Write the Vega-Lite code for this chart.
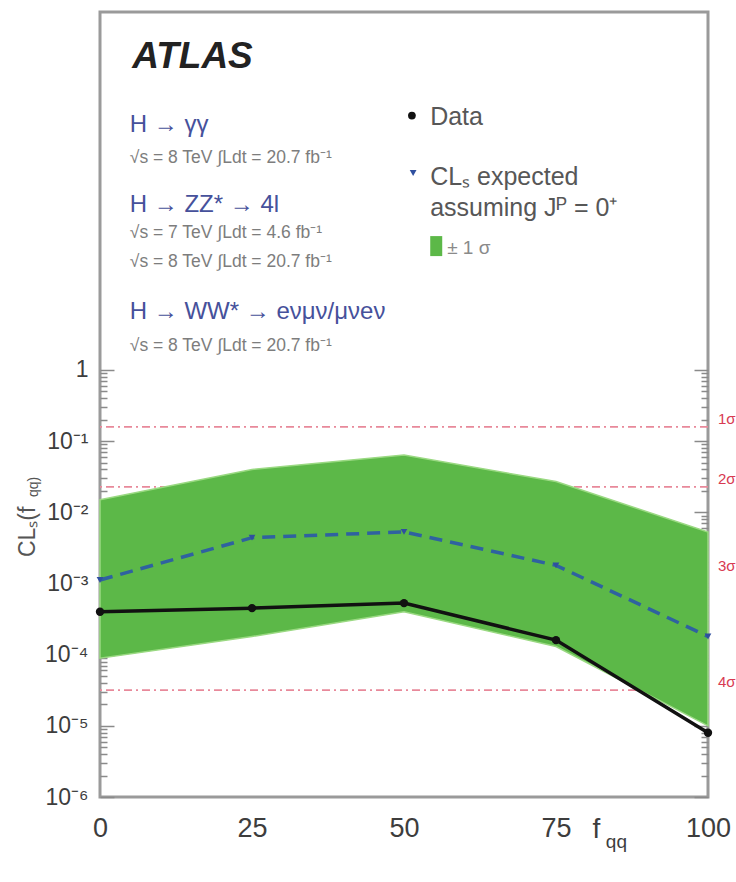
{
  "$schema": "https://vega.github.io/schema/vega-lite/v6.json",
  "width": 608,
  "height": 785,
  "autosize": {"type": "none"},
  "padding": {"left": 100, "top": 12, "right": 28, "bottom": 85},
  "background": "#ffffff",
  "config": {
    "view": {"stroke": "#9a9a9a", "strokeWidth": 3},
    "font": "Liberation Sans",
    "axis": {"grid": false, "domain": false}
  },
  "datasets": {
    "cls": [
      {"fqq": 0, "observed": 0.00040, "expected": 0.00112, "band_lo": 0.000089, "band_hi": 0.015},
      {"fqq": 25, "observed": 0.00045, "expected": 0.0044, "band_lo": 0.00018, "band_hi": 0.040},
      {"fqq": 50, "observed": 0.00053, "expected": 0.0053, "band_lo": 0.00040, "band_hi": 0.064},
      {"fqq": 75, "observed": 0.00016, "expected": 0.0018, "band_lo": 0.00013, "band_hi": 0.027},
      {"fqq": 100, "observed": 0.000008, "expected": 0.00018, "band_lo": 0.00001, "band_hi": 0.0053}
    ],
    "sigma": [
      {"p": 0.1587, "level": "1σ"},
      {"p": 0.02275, "level": "2σ"},
      {"p": 0.00135, "level": "3σ"},
      {"p": 0.0000317, "level": "4σ"}
    ],
    "atlas": [{"x": 5.3, "y": 25000, "label": "ATLAS"}],
    "channels": [
      {"x": 4.9, "y": 2760, "label": "H → γγ"},
      {"x": 4.9, "y": 208, "label": "H → ZZ* → 4l"},
      {"x": 4.9, "y": 6.5, "label": "H → WW* → eνμν/μνeν"}
    ],
    "lumi": [
      {"x": 4.9, "y": 950, "label": "√s = 8 TeV ∫Ldt = 20.7 fb⁻¹"},
      {"x": 4.9, "y": 84, "label": "√s = 7 TeV ∫Ldt = 4.6 fb⁻¹"},
      {"x": 4.9, "y": 33, "label": "√s = 8 TeV ∫Ldt = 20.7 fb⁻¹"},
      {"x": 4.9, "y": 2.2, "label": "√s = 8 TeV ∫Ldt = 20.7 fb⁻¹"}
    ],
    "legend_text": [
      {"x": 54.3, "y": 3560, "label": "Data"},
      {"x": 54.3, "y": 513, "label": "CLₛ expected"},
      {"x": 54.3, "y": 188, "label": "assuming Jᴾ = 0⁺"}
    ],
    "legend_band": [{"x": 57.1, "y": 52, "label": "± 1 σ"}],
    "legend_dot": [{"x": 51.3, "y": 3750}],
    "legend_tri": [{"x": 51.5, "y": 585}],
    "legend_box": [{"x": 55.3, "y": 55}],
    "ytitle_main": [{"x": -11.8, "y": 0.00235, "label": "CLₛ(f"}],
    "ytitle_sub": [{"x": -10.9, "y": 0.0164, "label": "qq)"}],
    "xtitle_main": [{"x": 81.0, "y": 0.000000347, "label": "f"}],
    "xtitle_sub": [{"x": 83.2, "y": 0.000000235, "label": "qq"}]
  },
  "resolve": {"axis": {"y": "independent", "x": "independent"}},
  "layer": [
    {
      "data": {"name": "sigma"},
      "mark": {"type": "rule", "color": "#e8899a", "strokeWidth": 1.6, "strokeDash": [8, 4, 2, 4]},
      "encoding": {
        "y": {
          "field": "p", "type": "quantitative",
          "scale": {"type": "log", "domain": [0.000001, 107000]},
          "axis": {
            "orient": "right", "title": null, "labels": false, "domain": false,
            "values": [1e-6, 2e-6, 3e-6, 4e-6, 5e-6, 6e-6, 7e-6, 8e-6, 9e-6, 1e-5, 2e-5, 3e-5, 4e-5, 5e-5, 6e-5, 7e-5, 8e-5, 9e-5, 1e-4, 2e-4, 3e-4, 4e-4, 5e-4, 6e-4, 7e-4, 8e-4, 9e-4, 1e-3, 2e-3, 3e-3, 4e-3, 5e-3, 6e-3, 7e-3, 8e-3, 9e-3, 1e-2, 2e-2, 3e-2, 4e-2, 5e-2, 6e-2, 7e-2, 8e-2, 9e-2, 0.1, 0.2, 0.3, 0.4, 0.5, 0.6, 0.7, 0.8, 0.9, 1],
            "tickColor": "#8a8a8a", "tickWidth": 1.5,
            "tickSize": {"condition": {"test": "abs(log(datum.value)/LN10 - round(log(datum.value)/LN10)) < 0.001", "value": -14}, "value": -7}
          }
        }
      }
    },
    {
      "data": {"name": "sigma"},
      "mark": {"type": "text", "align": "left", "baseline": "bottom", "dx": 10, "fontSize": 15, "color": "#d83a52"},
      "encoding": {
        "x": {"datum": 100, "type": "quantitative", "scale": {"domain": [0, 100]}, "axis": null},
        "y": {"field": "p", "type": "quantitative", "scale": {"type": "log", "domain": [0.000001, 107000]}, "axis": null},
        "text": {"field": "level"}
      }
    },
    {
      "data": {"name": "cls"},
      "mark": {"type": "area", "color": "#5cb848", "opacity": 1, "stroke": "#9ad982", "strokeWidth": 1.5},
      "encoding": {
        "x": {
          "field": "fqq", "type": "quantitative", "scale": {"domain": [0, 100]},
          "axis": {"orient": "bottom", "title": null, "values": [0, 25, 50, 75, 100], "ticks": false, "domain": false,
                   "labelFontSize": 27, "labelColor": "#3d3d3d", "labelPadding": 18, "labelFlush": false, "labelOverlap": false}
        },
        "y": {
          "field": "band_hi", "type": "quantitative",
          "scale": {"type": "log", "domain": [0.000001, 107000]},
          "axis": {
            "orient": "left", "title": null, "domain": false,
            "values": [1e-6, 2e-6, 3e-6, 4e-6, 5e-6, 6e-6, 7e-6, 8e-6, 9e-6, 1e-5, 2e-5, 3e-5, 4e-5, 5e-5, 6e-5, 7e-5, 8e-5, 9e-5, 1e-4, 2e-4, 3e-4, 4e-4, 5e-4, 6e-4, 7e-4, 8e-4, 9e-4, 1e-3, 2e-3, 3e-3, 4e-3, 5e-3, 6e-3, 7e-3, 8e-3, 9e-3, 1e-2, 2e-2, 3e-2, 4e-2, 5e-2, 6e-2, 7e-2, 8e-2, 9e-2, 0.1, 0.2, 0.3, 0.4, 0.5, 0.6, 0.7, 0.8, 0.9, 1],
            "labelExpr": "abs(log(datum.value)/LN10 - round(log(datum.value)/LN10)) > 0.001 ? '' : (round(log(datum.value)/LN10) == 0 ? '1' : '10' + ['⁰','⁻¹','⁻²','⁻³','⁻⁴','⁻⁵','⁻⁶'][-round(log(datum.value)/LN10)])",
            "labelFontSize": 23, "labelColor": "#3d3d3d", "labelPadding": 26, "labelOverlap": false, "labelFlush": false,
            "tickColor": "#8a8a8a", "tickWidth": 1.5,
            "tickSize": {"condition": {"test": "abs(log(datum.value)/LN10 - round(log(datum.value)/LN10)) < 0.001", "value": -14}, "value": -7}
          }
        },
        "y2": {"field": "band_lo"}
      }
    },
    {
      "data": {"name": "cls"},
      "mark": {"type": "line", "color": "#2f62a0", "strokeWidth": 3.5, "strokeDash": [13, 8]},
      "encoding": {
        "x": {"field": "fqq", "type": "quantitative", "scale": {"domain": [0, 100]}, "axis": null},
        "y": {"field": "expected", "type": "quantitative", "scale": {"type": "log", "domain": [0.000001, 107000]}, "axis": null}
      }
    },
    {
      "data": {"name": "cls"},
      "mark": {"type": "point", "shape": "triangle-down", "filled": true, "color": "#2f4f9f", "size": 45, "opacity": 1},
      "encoding": {
        "x": {"field": "fqq", "type": "quantitative", "scale": {"domain": [0, 100]}, "axis": null},
        "y": {"field": "expected", "type": "quantitative", "scale": {"type": "log", "domain": [0.000001, 107000]}, "axis": null}
      }
    },
    {
      "data": {"name": "cls"},
      "mark": {"type": "line", "color": "#111111", "strokeWidth": 3.5},
      "encoding": {
        "x": {"field": "fqq", "type": "quantitative", "scale": {"domain": [0, 100]}, "axis": null},
        "y": {"field": "observed", "type": "quantitative", "scale": {"type": "log", "domain": [0.000001, 107000]}, "axis": null}
      }
    },
    {
      "data": {"name": "cls"},
      "mark": {"type": "point", "shape": "circle", "filled": true, "color": "#111111", "size": 70, "opacity": 1},
      "encoding": {
        "x": {"field": "fqq", "type": "quantitative", "scale": {"domain": [0, 100]}, "axis": null},
        "y": {"field": "observed", "type": "quantitative", "scale": {"type": "log", "domain": [0.000001, 107000]}, "axis": null}
      }
    },
    {
      "data": {"name": "atlas"},
      "mark": {"type": "text", "align": "left", "baseline": "middle", "fontSize": 37, "fontWeight": "bold", "fontStyle": "italic", "color": "#222222"},
      "encoding": {
        "x": {"field": "x", "type": "quantitative", "scale": {"domain": [0, 100]}, "axis": null},
        "y": {"field": "y", "type": "quantitative", "scale": {"type": "log", "domain": [0.000001, 107000]}, "axis": null},
        "text": {"field": "label"}
      }
    },
    {
      "data": {"name": "channels"},
      "mark": {"type": "text", "align": "left", "baseline": "middle", "fontSize": 24, "color": "#46519b"},
      "encoding": {
        "x": {"field": "x", "type": "quantitative", "scale": {"domain": [0, 100]}, "axis": null},
        "y": {"field": "y", "type": "quantitative", "scale": {"type": "log", "domain": [0.000001, 107000]}, "axis": null},
        "text": {"field": "label"}
      }
    },
    {
      "data": {"name": "lumi"},
      "mark": {"type": "text", "align": "left", "baseline": "middle", "fontSize": 17.5, "color": "#7d7d7d"},
      "encoding": {
        "x": {"field": "x", "type": "quantitative", "scale": {"domain": [0, 100]}, "axis": null},
        "y": {"field": "y", "type": "quantitative", "scale": {"type": "log", "domain": [0.000001, 107000]}, "axis": null},
        "text": {"field": "label"}
      }
    },
    {
      "data": {"name": "legend_text"},
      "mark": {"type": "text", "align": "left", "baseline": "middle", "fontSize": 25, "color": "#575757"},
      "encoding": {
        "x": {"field": "x", "type": "quantitative", "scale": {"domain": [0, 100]}, "axis": null},
        "y": {"field": "y", "type": "quantitative", "scale": {"type": "log", "domain": [0.000001, 107000]}, "axis": null},
        "text": {"field": "label"}
      }
    },
    {
      "data": {"name": "legend_band"},
      "mark": {"type": "text", "align": "left", "baseline": "middle", "fontSize": 19, "color": "#8a8a8a"},
      "encoding": {
        "x": {"field": "x", "type": "quantitative", "scale": {"domain": [0, 100]}, "axis": null},
        "y": {"field": "y", "type": "quantitative", "scale": {"type": "log", "domain": [0.000001, 107000]}, "axis": null},
        "text": {"field": "label"}
      }
    },
    {
      "data": {"name": "legend_dot"},
      "mark": {"type": "point", "shape": "circle", "filled": true, "color": "#111111", "size": 60, "opacity": 1},
      "encoding": {
        "x": {"field": "x", "type": "quantitative", "scale": {"domain": [0, 100]}, "axis": null},
        "y": {"field": "y", "type": "quantitative", "scale": {"type": "log", "domain": [0.000001, 107000]}, "axis": null}
      }
    },
    {
      "data": {"name": "legend_tri"},
      "mark": {"type": "point", "shape": "triangle-down", "filled": true, "color": "#2f4f9f", "size": 45, "opacity": 1},
      "encoding": {
        "x": {"field": "x", "type": "quantitative", "scale": {"domain": [0, 100]}, "axis": null},
        "y": {"field": "y", "type": "quantitative", "scale": {"type": "log", "domain": [0.000001, 107000]}, "axis": null}
      }
    },
    {
      "data": {"name": "legend_box"},
      "mark": {"type": "point", "shape": "M-0.6,-1H0.6V1H-0.6Z", "filled": true, "color": "#5cb848", "size": 400, "opacity": 1},
      "encoding": {
        "x": {"field": "x", "type": "quantitative", "scale": {"domain": [0, 100]}, "axis": null},
        "y": {"field": "y", "type": "quantitative", "scale": {"type": "log", "domain": [0.000001, 107000]}, "axis": null}
      }
    },
    {
      "data": {"name": "ytitle_main"},
      "mark": {"type": "text", "align": "left", "baseline": "middle", "angle": 270, "fontSize": 23, "color": "#555555"},
      "encoding": {
        "x": {"field": "x", "type": "quantitative", "scale": {"domain": [0, 100]}, "axis": null},
        "y": {"field": "y", "type": "quantitative", "scale": {"type": "log", "domain": [0.000001, 107000]}, "axis": null},
        "text": {"field": "label"}
      }
    },
    {
      "data": {"name": "ytitle_sub"},
      "mark": {"type": "text", "align": "left", "baseline": "middle", "angle": 270, "fontSize": 14, "color": "#555555"},
      "encoding": {
        "x": {"field": "x", "type": "quantitative", "scale": {"domain": [0, 100]}, "axis": null},
        "y": {"field": "y", "type": "quantitative", "scale": {"type": "log", "domain": [0.000001, 107000]}, "axis": null},
        "text": {"field": "label"}
      }
    },
    {
      "data": {"name": "xtitle_main"},
      "mark": {"type": "text", "align": "left", "baseline": "middle", "fontSize": 28, "color": "#3d3d3d"},
      "encoding": {
        "x": {"field": "x", "type": "quantitative", "scale": {"domain": [0, 100]}, "axis": null},
        "y": {"field": "y", "type": "quantitative", "scale": {"type": "log", "domain": [0.000001, 107000]}, "axis": null},
        "text": {"field": "label"}
      }
    },
    {
      "data": {"name": "xtitle_sub"},
      "mark": {"type": "text", "align": "left", "baseline": "middle", "fontSize": 19, "color": "#3d3d3d"},
      "encoding": {
        "x": {"field": "x", "type": "quantitative", "scale": {"domain": [0, 100]}, "axis": null},
        "y": {"field": "y", "type": "quantitative", "scale": {"type": "log", "domain": [0.000001, 107000]}, "axis": null},
        "text": {"field": "label"}
      }
    }
  ]
}
